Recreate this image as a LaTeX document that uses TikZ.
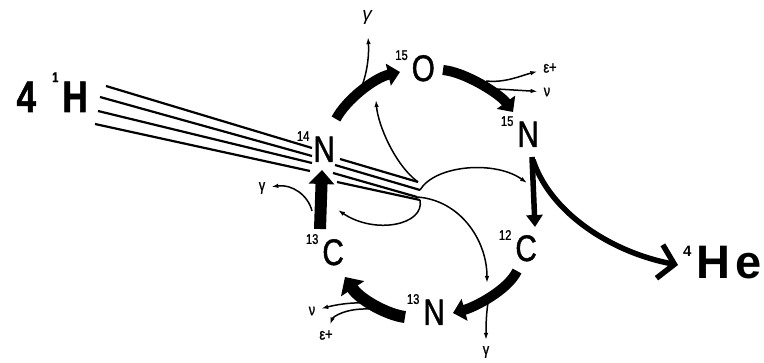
\documentclass[tikz,border=0pt]{standalone}
\usepackage{fontspec}
\setmainfont{Liberation Sans}
\newfontfamily\narrow[FakeStretch=0.8,FakeBold=1.2]{Liberation Sans}
\usetikzlibrary{arrows.meta}
\newcommand{\iso}[2]{\raisebox{0.57em}{\fontsize{14}{14}\selectfont #1}\kern4pt #2}
\begin{document}
\begin{tikzpicture}[x=1pt,y=1pt,>={Latex[length=7pt,width=4.5pt]},
   el/.style={font=\narrow\fontsize{37}{40}\selectfont,inner sep=0pt,anchor=base east},
   lab/.style={font=\narrow\fontsize{16}{16}\selectfont,inner sep=1pt},
   cyc/.style={line width=10pt,-{Triangle[length=12pt,width=22pt]}},
   proton/.style={line width=2.2pt},
   emit/.style={line width=1.5pt,->}]
   \useasboundingbox (0,0) rectangle (764,362);
   %nuclei
   \node[el] (n14) at (335,200) {\iso{14}{N}};
   \node[el] (o15) at (435,281) {\iso{15}{O}};
   \node[el] (n15) at (539,215) {\iso{15}{N}};
   \node[el] (c12) at (537,101) {\iso{12}{C}};
   \node[el] (n13) at (445,37) {\iso{13}{N}};
   \node[el] (c13) at (344,97) {\iso{13}{C}};
   \node[inner sep=0pt,anchor=base east,font=\narrow\bfseries\fontsize{44}{44}\selectfont] (h1) at (88,250)
      {4\kern16pt\raisebox{0.68em}{\fontsize{14}{14}\selectfont 1}\kern4pt H};
   \node[inner sep=0pt,anchor=base west,font=\bfseries\fontsize{47}{47}\selectfont] (he4) at (683,84)
      {\raisebox{0.45em}{\fontsize{15}{15}\selectfont 4}\kern5pt H\kern5pt e};
   %small labels
   \node[lab,font=\itshape\fontsize{19}{19}\selectfont] (g1) at (367,345) {γ};
   \node[lab] (e1) at (550,294) {ε+};
   \node[lab] (v1) at (547,270) {ν};
   \node[lab] (g2) at (262,174) {γ};
   \node[lab] (v2) at (312,51) {ν};
   \node[lab] (e2) at (326,27) {ε+};
   \node[lab] (g3) at (486,10) {γ};
   %protons
   \foreach \xa/\ya/\xb/\yb/\xc/\yc/\xd/\yd in {106/276/312/214/340/203/418/180,
      100/265/312/206/335/197/420/172, 98/251/312/199/333/189/417/165,
      95/238/310/191/337/180/420/162}
      \draw[proton] (\xa,\ya) -- (\xb,\yb) (\xc,\yc) -- (\xd,\yd);
   \coordinate (j1) at (418,180);
   \coordinate (j2) at (420,172);
   \coordinate (j3) at (417,165);
   \coordinate (j4) at (420,162);
   \draw[emit] (j1) .. controls (395,197) and (378,237) .. (376,262);
   \draw[emit] (j2) .. controls (435,197) and (495,202) .. (527,179);
   \draw[emit] (j3) .. controls (460,162) and (487,122) .. (487,79);
   \draw[emit] (j4) .. controls (425,137) and (375,127) .. (338,152);
   %cycle
   \draw[cyc] ([shift={(1,43)}]n14.base east) .. controls +(10,19) and +(-26,-6) .. ([shift={(-35,9)}]o15.base east);
   \draw[cyc] ([shift={(8,11)}]o15.base east) .. controls +(22,-2) and +(-13,18) .. ([shift={(-26,35)}]n15.base east);
   \draw[cyc,line width=5.5pt,-{Triangle[length=12pt,width=16pt]}] ([shift={(-7,-10)}]n15.base east) -- ([shift={(-2,34)}]c12.base east);
   \draw[cyc] ([shift={(-20,-10)}]c12.base east) .. controls +(-9,-19) and +(22,6) .. ([shift={(8,12)}]n13.base east);
   \draw[cyc,line width=12pt,-{Triangle[length=14pt,width=27pt]}] ([shift={(-40,8)}]n13.base east) .. controls +(-17,2) and +(15,-23) .. ([shift={(1,-12)}]c13.base east);
   \draw[cyc,line width=12pt,-{Triangle[length=14pt,width=25pt]}] ([shift={(-24,36)}]c13.base east) -- ([shift={(-13,-8)}]n14.base east);
   %helium
   \draw[line width=5.5pt,-{Straight Barb[length=15pt,width=34pt]}] ([shift={(-6,-13)}]n15.base east) .. controls +(17,-52) and +(-68,13) .. ([shift={(-5,13)}]he4.base west);
   %emissions
   \coordinate (s1) at (362,276);
   \coordinate (s2) at (486,281);
   \coordinate (s3) at (497,273);
   \coordinate (s4) at (312,151);
   \coordinate (s5) at (370,59);
   \coordinate (s6) at (370,53);
   \coordinate (s7) at (489,65);
   \draw[emit,shorten >=12pt] (s1) .. controls (368,293) and (369,308) .. (g1);
   \draw[emit,shorten >=5pt] (s2) .. controls (505,279) and (520,286) .. (e1);
   \draw[emit,shorten >=5pt] (s3) -- (v1);
   \draw[emit,shorten >=5pt] (s4) .. controls (308,167) and (292,178) .. (g2);
   \draw[emit,shorten >=5pt] (s5) .. controls (350,60) and (335,57) .. (v2);
   \draw[emit,shorten >=5pt] (s6) .. controls (345,54) and (333,45) .. (e2);
   \draw[emit,shorten >=5pt] (s7) .. controls (486,50) and (486,35) .. (g3);
\end{tikzpicture}
\end{document}
